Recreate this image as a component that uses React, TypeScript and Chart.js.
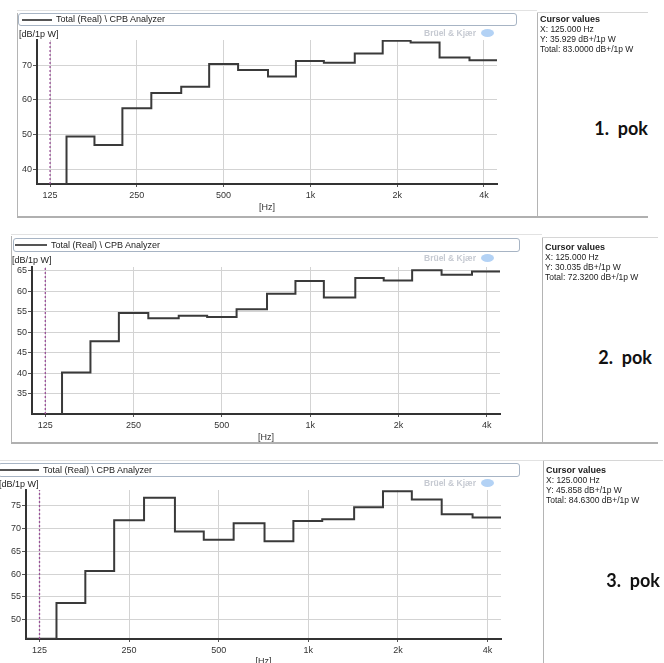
import React, { useEffect, useRef } from 'react';
import { Chart, registerables } from 'chart.js';

Chart.register(...registerables);

// ---- data ----
const bands = [125, 160, 200, 250, 315, 400, 500, 630, 800, 1000, 1250, 1600, 2000, 2500, 3150, 4000];
const pok1Values = [35.93, 49.5, 47.1, 57.6, 62.0, 63.8, 70.3, 68.6, 66.7, 71.2, 70.7, 73.3, 77.0, 76.5, 72.2, 71.4];
const pok2Values = [30.04, 40.2, 47.8, 54.7, 53.4, 54.0, 53.7, 55.6, 59.4, 62.5, 58.5, 63.2, 62.6, 65.1, 64.0, 64.8];
const pok3Values = [45.86, 53.7, 60.7, 71.8, 76.7, 69.3, 67.5, 71.1, 67.2, 71.6, 72.0, 74.6, 78.1, 76.3, 73.1, 72.4];

const xTickValues = [125, 250, 500, 1000, 2000, 4000];
const xTickLabels = ['125', '250', '500', '1k', '2k', '4k'];
const xRange = [112.6, 4440];

const yTicks1 = [40, 50, 60, 70];
const yTicks2 = [35, 40, 45, 50, 55, 60, 65];
const yTicks3 = [50, 55, 60, 65, 70, 75];
const yRange1 = [35.9, 77.2];
const yRange2 = [30.1, 65.9];
const yRange3 = [45.8, 78.4];

const cursorX = 125;
const cursorXText = ['125.000', '125.000', '125.000'];
const cursorYText = ['35.929', '30.035', '45.858'];
const totalText = ['83.0000', '72.3200', '84.6300'];
const panelLabels = ['1.  pok', '2.  pok', '3.  pok'];
const seriesName = 'Total (Real) \\ CPB Analyzer';
const yUnit = '[dB/1p W]';
const xUnit = '[Hz]';
const watermark = 'Brüel & Kjær';

// ---- layout ----
const panels = [
  {
    values: pok1Values, yTicks: yTicks1, yRange: yRange1,
    top: 27, h: 188, w: 520, padTop: 13, padRight: 23, areaLeft: 37, xH: 31, titlePad: 1.6,
    legend: { left: 18, top: 13, width: 499, height: 13 }, lineX: 22, textX: 56,
    unitX: 19, unitY: 34, wmY: 33,
    frame: { left: 17, top: 13, bottom: 217, right: 537, topLine: 10 },
    cursor: { left: 537, top: 12, right: 648, bottom: 217, textTop: 14 },
    pokRight: 648, pokY: 128,
  },
  {
    values: pok2Values, yTicks: yTicks2, yRange: yRange2,
    top: 252, h: 192, w: 520, padTop: 15, padRight: 20, areaLeft: 32, xH: 30, titlePad: 0.6,
    legend: { left: 13, top: 238, width: 507, height: 14 }, lineX: 15, textX: 51,
    unitX: 12, unitY: 260, wmY: 258,
    frame: { left: 11, top: 236, bottom: 443, right: 542, topLine: 234 },
    cursor: { left: 542, top: 237, right: 658, bottom: 443, textTop: 242 },
    pokRight: 652, pokY: 357,
  },
  {
    values: pok3Values, yTicks: yTicks3, yRange: yRange3,
    top: 477, h: 193, w: 520, padTop: 13, padRight: 19, areaLeft: 26, xH: 31, titlePad: 2.6,
    legend: { left: -2, top: 463, width: 522, height: 14 }, lineX: 0, textX: 43,
    unitX: -1, unitY: 484, wmY: 483,
    frame: null as any,
    cursor: { left: 543, top: 460, right: 663, bottom: 663, textTop: 465 },
    pokRight: 660, pokY: 580,
  },
];

const FONT = "'Liberation Sans', Arial, sans-serif";

function StepChart({ p }: { p: any }) {
  const ref = useRef<HTMLCanvasElement>(null);
  useEffect(() => {
    const half = Math.pow(2, 1 / 6);
    const vals: number[] = p.values;
    const pts = bands.map((f, i) => ({ x: f / half, y: vals[i] }));
    pts.push({ x: bands[bands.length - 1] * half, y: vals[vals.length - 1] });
    const [yMin, yMax] = p.yRange;
    const chart = new Chart(ref.current as HTMLCanvasElement, {
      type: 'line',
      data: {
        datasets: [
          {
            data: [{ x: cursorX, y: yMin }, { x: cursorX, y: yMax }],
            borderColor: '#9a4f97', borderWidth: 1.3, borderDash: [2, 2],
            pointRadius: 0, fill: false,
          },
          {
            data: pts, stepped: 'before', borderColor: '#3a3a3a', borderWidth: 2,
            pointRadius: 0, fill: false,
          },
        ],
      } as any,
      options: {
        animation: false,
        responsive: false,
        maintainAspectRatio: false,
        events: [],
        layout: { padding: { top: p.padTop, right: p.padRight, left: 0, bottom: 0 } },
        plugins: { legend: { display: false }, tooltip: { enabled: false } },
        font: { family: FONT },
        scales: {
          x: {
            type: 'logarithmic', min: xRange[0], max: xRange[1],
            afterBuildTicks: (s: any) => { s.ticks = xTickValues.map((v) => ({ value: v })); },
            afterFit: (s: any) => { s.height = p.xH; },
            ticks: {
              callback: (_v: any, i: number) => xTickLabels[i],
              autoSkip: false, maxRotation: 0, minRotation: 0, padding: 3,
              color: '#333', font: { size: 9, family: FONT },
            },
            grid: { color: '#d3d3d3', tickColor: '#555', tickLength: 3, lineWidth: 1 },
            border: { color: '#333', width: 2 },
            title: {
              display: true, text: xUnit, color: '#333',
              font: { size: 9, family: FONT }, padding: { top: 0, bottom: p.titlePad },
            },
          },
          y: {
            type: 'linear', min: yMin, max: yMax,
            afterBuildTicks: (s: any) => { s.ticks = p.yTicks.map((v: number) => ({ value: v })); },
            afterFit: (s: any) => { s.width = p.areaLeft; },
            ticks: { padding: 1, color: '#333', font: { size: 9, family: FONT } },
            grid: { color: '#d3d3d3', tickColor: '#555', tickLength: 4, lineWidth: 1 },
            border: { color: '#333', width: 2 },
          },
        },
      } as any,
    });
    return () => chart.destroy();
  }, []);
  return (
    <canvas
      ref={ref}
      width={p.w}
      height={p.h}
      style={{ position: 'absolute', left: 0, top: p.top, width: p.w, height: p.h }}
    />
  );
}

function Line({ x, y, w, h, c }: { x: number; y: number; w: number; h: number; c: string }) {
  return <div style={{ position: 'absolute', left: x, top: y, width: w, height: h, background: c }} />;
}

function Panel({ p, idx }: { p: any; idx: number }) {
  const L = p.legend;
  const f = p.frame;
  const c = p.cursor;
  return (
    <>
      {f && <Line x={f.left} y={f.topLine} w={f.right - f.left} h={1} c="#e2e2e2" />}
      {f && <Line x={f.left} y={f.top} w={1} h={f.bottom - f.top} c="#b4b4b4" />}
      {f && <Line x={f.left} y={f.bottom - 1} w={f.right - f.left} h={2} c="#b0b0b0" />}
      {!f && <Line x={0} y={c.top} w={c.left} h={1} c="#e2e2e2" />}
      <StepChart p={p} />
      <div
        style={{
          position: 'absolute', left: L.left, top: L.top, width: L.width, height: L.height,
          border: '1px solid #a7b4c4', borderRadius: 3, boxSizing: 'border-box', background: '#fff',
        }}
      />
      <Line x={p.lineX} y={L.top + L.height / 2 - 1} w={p.textX - p.lineX - 4} h={2} c="#555" />
      <div
        style={{
          position: 'absolute', left: p.textX, top: L.top, height: L.height, lineHeight: L.height + 'px',
          fontSize: 9, color: '#222', whiteSpace: 'pre',
        }}
      >
        {seriesName}
      </div>
      <div
        style={{
          position: 'absolute', left: p.unitX, top: p.unitY - 6, height: 12, lineHeight: '12px',
          fontSize: 9, color: '#222', whiteSpace: 'pre',
        }}
      >
        {yUnit}
      </div>
      <div
        style={{
          position: 'absolute', left: 424, top: p.wmY - 6, height: 12, lineHeight: '12px',
          fontSize: 8.5, color: '#c6cad2', fontWeight: 'bold', whiteSpace: 'pre',
        }}
      >
        {watermark}
      </div>
      <div
        style={{
          position: 'absolute', left: 481, top: p.wmY - 4, width: 13, height: 8,
          borderRadius: '50%', background: '#b3d2f5',
        }}
      />
      {/* cursor values panel */}
      <Line x={c.left} y={c.top} w={1} h={c.bottom - c.top} c="#b4b4b4" />
      <Line x={c.left} y={c.top} w={c.right - c.left} h={1} c="#d6d6d6" />
      {c.bottom < 663 && <Line x={c.left} y={c.bottom - 1} w={c.right - c.left} h={2} c="#b0b0b0" />}
      <div
        style={{
          position: 'absolute', left: c.left + 3, top: c.textTop, fontSize: 8.5, lineHeight: '10px',
          color: '#222', whiteSpace: 'pre',
        }}
      >
        <div style={{ fontWeight: 'bold', fontSize: 9 }}>Cursor values</div>
        <div>{'X: ' + cursorXText[idx] + ' Hz'}</div>
        <div>{'Y: ' + cursorYText[idx] + ' dB+/1p W'}</div>
        <div>{'Total: ' + totalText[idx] + ' dB+/1p W'}</div>
      </div>
      <div
        style={{
          position: 'absolute', right: 664 - p.pokRight, top: p.pokY - 12, height: 24, lineHeight: '24px',
          fontSize: 18, fontWeight: 'bold', color: '#111', fontFamily: "Lato, 'Open Sans', sans-serif",
          whiteSpace: 'pre', textAlign: 'right',
        }}
      >
        {panelLabels[idx]}
      </div>
    </>
  );
}

export default function App() {
  return (
    <div
      style={{
        position: 'absolute', left: 0, top: 0, width: 664, height: 663, overflow: 'hidden',
        background: '#fff', fontFamily: FONT,
      }}
    >
      {panels.map((p, i) => (
        <Panel key={i} p={p} idx={i} />
      ))}
    </div>
  );
}
